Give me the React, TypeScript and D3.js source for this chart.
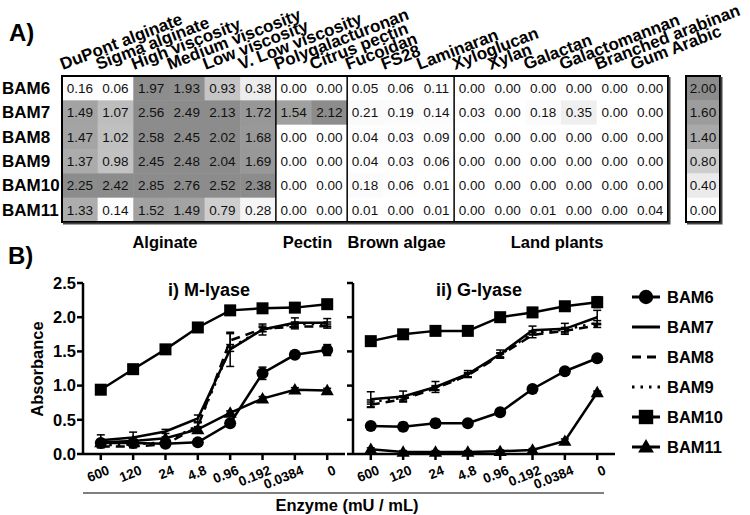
import * as d3 from "d3";

// ---- panel A data ----
const strains = ["BAM6", "BAM7", "BAM8", "BAM9", "BAM10", "BAM11"];
const substrates = [
  "DuPont alginate", "Sigma alginate", "High viscosity", "Medium viscosity", "Low viscosity",
  "V. Low viscosity", "Polygalacturonan", "Citrus pectin", "Fucoidan", "FS28", "Laminaran",
  "Xyloglucan", "Xylan", "Galactan", "Galactomannan", "Branched arabinan", "Gum Arabic",
];
const groupNames = ["Alginate", "Pectin", "Brown algae", "Land plants"];
const groupSizes = [6, 2, 3, 6];

const heatBAM6 = [0.16, 0.06, 1.97, 1.93, 0.93, 0.38, 0.0, 0.0, 0.05, 0.06, 0.11, 0.0, 0.0, 0.0, 0.0, 0.0, 0.0];
const heatBAM7 = [1.49, 1.07, 2.56, 2.49, 2.13, 1.72, 1.54, 2.12, 0.21, 0.19, 0.14, 0.03, 0.0, 0.18, 0.35, 0.0, 0.0];
const heatBAM8 = [1.47, 1.02, 2.58, 2.45, 2.02, 1.68, 0.0, 0.0, 0.04, 0.03, 0.09, 0.0, 0.0, 0.0, 0.0, 0.0, 0.0];
const heatBAM9 = [1.37, 0.98, 2.45, 2.48, 2.04, 1.69, 0.0, 0.0, 0.04, 0.03, 0.06, 0.0, 0.0, 0.0, 0.0, 0.0, 0.0];
const heatBAM10 = [2.25, 2.42, 2.85, 2.76, 2.52, 2.38, 0.0, 0.0, 0.18, 0.06, 0.01, 0.0, 0.0, 0.0, 0.0, 0.0, 0.0];
const heatBAM11 = [1.33, 0.14, 1.52, 1.49, 0.79, 0.28, 0.0, 0.0, 0.01, 0.0, 0.01, 0.0, 0.0, 0.01, 0.0, 0.0, 0.04];
const heatRows = [heatBAM6, heatBAM7, heatBAM8, heatBAM9, heatBAM10, heatBAM11];

const scaleValues = [2.0, 1.6, 1.4, 0.8, 0.4, 0.0];

// ---- panel B data ----
const doses = ["600", "120", "24", "4.8", "0.96", "0.192", "0.0384", "0"];

const mBAM6 = [0.16, 0.16, 0.15, 0.17, 0.45, 1.18, 1.45, 1.52];
const mBAM7 = [0.2, 0.24, 0.33, 0.52, 1.53, 1.82, 1.92, 1.92];
const mBAM8 = [0.11, 0.11, 0.14, 0.4, 1.66, 1.83, 1.86, 1.87];
const mBAM9 = [0.13, 0.14, 0.17, 0.42, 1.55, 1.82, 1.9, 1.9];
const mBAM10 = [0.94, 1.24, 1.53, 1.85, 2.1, 2.13, 2.14, 2.19];
const mBAM11 = [0.17, 0.19, 0.23, 0.36, 0.6, 0.81, 0.94, 0.93];

const mErrBAM6 = [0.02, 0.02, 0.02, 0.02, 0.03, 0.09, 0.03, 0.08];
const mErrBAM7 = [0.08, 0.08, 0.03, 0.05, 0.25, 0.08, 0.07, 0.06];
const mErrBAM8 = [0.02, 0.02, 0.02, 0.06, 0.1, 0.04, 0.03, 0.03];
const mErrBAM9 = [0.02, 0.02, 0.02, 0.04, 0.05, 0.03, 0.03, 0.03];
const mErrBAM10 = [0.02, 0.02, 0.02, 0.02, 0.02, 0.02, 0.02, 0.02];
const mErrBAM11 = [0.02, 0.02, 0.02, 0.04, 0.03, 0.03, 0.03, 0.03];

const gBAM6 = [0.41, 0.4, 0.45, 0.45, 0.61, 0.95, 1.21, 1.4];
const gBAM7 = [0.8, 0.84, 0.98, 1.17, 1.46, 1.81, 1.83, 2.0];
const gBAM8 = [0.72, 0.8, 0.96, 1.15, 1.44, 1.74, 1.8, 1.88];
const gBAM9 = [0.76, 0.82, 0.97, 1.16, 1.45, 1.77, 1.82, 1.92];
const gBAM10 = [1.65, 1.75, 1.8, 1.8, 2.0, 2.07, 2.16, 2.22];
const gBAM11 = [0.07, 0.03, 0.03, 0.03, 0.04, 0.06, 0.19, 0.9];

const gErrBAM6 = [0.03, 0.06, 0.06, 0.03, 0.03, 0.03, 0.03, 0.03];
const gErrBAM7 = [0.11, 0.08, 0.08, 0.05, 0.06, 0.06, 0.08, 0.1];
const gErrBAM8 = [0.04, 0.03, 0.03, 0.03, 0.03, 0.04, 0.03, 0.03];
const gErrBAM9 = [0.03, 0.03, 0.03, 0.03, 0.03, 0.03, 0.03, 0.03];
const gErrBAM10 = [0.02, 0.03, 0.04, 0.03, 0.03, 0.07, 0.03, 0.08];
const gErrBAM11 = [0.02, 0.02, 0.02, 0.02, 0.02, 0.02, 0.03, 0.02];

const mSeries = [mBAM6, mBAM7, mBAM8, mBAM9, mBAM10, mBAM11];
const mErrors = [mErrBAM6, mErrBAM7, mErrBAM8, mErrBAM9, mErrBAM10, mErrBAM11];
const gSeries = [gBAM6, gBAM7, gBAM8, gBAM9, gBAM10, gBAM11];
const gErrors = [gErrBAM6, gErrBAM7, gErrBAM8, gErrBAM9, gErrBAM10, gErrBAM11];

// marker + dash per strain
const styles = [
  { marker: "circle", dash: "" },
  { marker: "none", dash: "" },
  { marker: "none", dash: "9,6" },
  { marker: "none", dash: "2.5,6" },
  { marker: "square", dash: "" },
  { marker: "triangle", dash: "" },
];

const FONT = "'Liberation Sans', Arial, sans-serif";

function Marker({ type, x, y, s = 1 }: { type: string; x: number; y: number; s?: number }) {
  if (type === "circle") return <circle cx={x} cy={y} r={6 * s} fill="#000" />;
  if (type === "square") return <rect x={x - 6 * s} y={y - 6 * s} width={12 * s} height={12 * s} fill="#000" />;
  if (type === "triangle") {
    const p = d3.symbol(d3.symbolTriangle, 75 * s * s)();
    return <path d={p || ""} transform={`translate(${x},${y + 1})`} fill="#000" />;
  }
  return null;
}

function LinePanel({ series, errors, x0, x1, title, showLabels }: any) {
  const x = d3.scalePoint<string>().domain(doses).range([x0, x1]).padding(0.55);
  const y = d3.scaleLinear().domain([0, 2.5]).range([454, 283]);
  const line = d3
    .line<number>()
    .x((d, i) => x(doses[i]) as number)
    .y((d) => y(d));
  const ticks = y.ticks(5);
  const order = [1, 2, 3, 0, 5, 4];

  return (
    <g>
      <text x={(x0 + x1) / 2 - 5} y={296} textAnchor="middle" fontSize={18} fontWeight="bold">
        {title}
      </text>
      {/* y axis */}
      <line x1={x0} x2={x0} y1={283} y2={455} stroke="#000" strokeWidth={2.5} />
      {ticks.map((t) => (
        <g key={t}>
          <line x1={x0 - 6} x2={x0} y1={y(t)} y2={y(t)} stroke="#000" strokeWidth={2.5} />
          {showLabels && (
            <text x={x0 - 7} y={y(t)} dy="0.35em" textAnchor="end" fontSize={16.5} fontWeight="bold">
              {d3.format(".1f")(t)}
            </text>
          )}
        </g>
      ))}
      {/* x axis */}
      <line x1={x0} x2={x1} y1={454} y2={454} stroke="#000" strokeWidth={2.5} />
      {doses.map((d) => (
        <g key={d}>
          <line x1={x(d)} x2={x(d)} y1={454} y2={460} stroke="#000" strokeWidth={2.5} />
          <text
            transform={`translate(${(x(d) as number) + 6},${465}) rotate(-22)`}
            textAnchor="end"
            dy="0.7em"
            fontSize={13.5}
            fontWeight="bold"
          >
            {d}
          </text>
        </g>
      ))}
      {/* lines */}
      {order.map((k) => (
        <path
          key={"l" + k}
          d={line(series[k]) || ""}
          fill="none"
          stroke="#000"
          strokeWidth={2.5}
          strokeDasharray={styles[k].dash}
        />
      ))}
      {/* error bars */}
      {order.map((k) =>
        series[k].map((v: number, i: number) => {
          const cx = x(doses[i]) as number;
          const e = errors[k][i];
          return (
            <g key={"e" + k + i} stroke="#000" strokeWidth={1.5}>
              <line x1={cx} x2={cx} y1={y(v - e)} y2={y(v + e)} />
              <line x1={cx - 4} x2={cx + 4} y1={y(v + e)} y2={y(v + e)} />
              <line x1={cx - 4} x2={cx + 4} y1={y(v - e)} y2={y(v - e)} />
            </g>
          );
        })
      )}
      {/* markers */}
      {order.map((k) =>
        series[k].map((v: number, i: number) => (
          <Marker key={"m" + k + i} type={styles[k].marker} x={x(doses[i]) as number} y={y(v)} />
        ))
      )}
    </g>
  );
}

export default function App() {
  const cx = d3.scaleBand<string>().domain(substrates).range([62, 668]);
  const ry = d3.scaleBand<string>().domain(strains).range([76, 222]);
  const color = d3
    .scaleLinear<string>()
    .domain([0, 0.2, 0.4, 0.8, 1.4, 1.6, 2.0])
    .range(["#ffffff", "#fbfbfb", "#ebebeb", "#cdcdcd", "#a9a9a9", "#9c9c9c", "#8c8c8c"])
    .clamp(true);
  const ly = d3.scaleBand<string>().domain(scaleValues.map(String)).range([76, 222]);

  // group boundaries
  const bounds: number[] = [];
  let acc = 0;
  groupSizes.forEach((n) => {
    bounds.push(acc);
    acc += n;
  });

  const legendY = d3.scalePoint<string>().domain(strains).range([297, 447]);

  return (
    <svg width={750} height={515} style={{ position: "absolute", left: 0, top: 0, fontFamily: FONT }}>
      <rect width={750} height={515} fill="#fff" />
      <text x={9} y={41} fontSize={24} fontWeight="bold">A)</text>
      <text x={8} y={264} fontSize={24} fontWeight="bold">B)</text>

      {/* column headers */}
      {substrates.map((s) => (
        <text
          key={s}
          transform={`translate(${(cx(s) as number) + cx.bandwidth() / 2 - 17},${70}) rotate(-21)`}
          fontSize={17}
          fontWeight="bold"
        >
          {s}
        </text>
      ))}

      {/* cells */}
      {strains.map((r, ri) => (
        <g key={r}>
          <text x={2} y={(ry(r) as number) + ry.bandwidth() / 2} dy="0.35em" fontSize={17} fontWeight="bold">
            {r}
          </text>
          {heatRows[ri].map((v, ci) => (
            <g key={ci}>
              <rect
                x={cx(substrates[ci])}
                y={ry(r)}
                width={cx.bandwidth() + 0.5}
                height={ry.bandwidth() + 0.5}
                fill={color(v)}
              />
              <text
                x={(cx(substrates[ci]) as number) + cx.bandwidth() / 2}
                y={(ry(r) as number) + ry.bandwidth() / 2}
                dy="0.36em"
                textAnchor="middle"
                fontSize={13.5}
                fill="#111"
              >
                {v.toFixed(2)}
              </text>
            </g>
          ))}
        </g>
      ))}
      {bounds.slice(1).map((b) => (
        <line
          key={b}
          x1={cx(substrates[b])}
          x2={cx(substrates[b])}
          y1={76}
          y2={222}
          stroke="#000"
          strokeWidth={1.5}
        />
      ))}
      <rect x={62} y={76} width={606} height={146} fill="none" stroke="#000" strokeWidth={2} />
      <path d="M63,223.5 H669.5 V77" fill="none" stroke="#444" strokeWidth={2} />

      {/* group labels */}
      {groupNames.map((g, i) => {
        const a = cx(substrates[bounds[i]]) as number;
        const b = (cx(substrates[bounds[i] + groupSizes[i] - 1]) as number) + cx.bandwidth();
        return (
          <text key={g} x={(a + b) / 2 - 4} y={248} textAnchor="middle" fontSize={16.5} fontWeight="bold">
            {g}
          </text>
        );
      })}

      {/* colour key */}
      {scaleValues.map((v) => (
        <g key={v}>
          <rect x={686} y={ly(String(v))} width={34} height={ly.bandwidth() + 0.5} fill={color(v)} />
          <text
            x={703}
            y={(ly(String(v)) as number) + ly.bandwidth() / 2}
            dy="0.36em"
            textAnchor="middle"
            fontSize={13.5}
            fill="#111"
          >
            {v.toFixed(2)}
          </text>
        </g>
      ))}
      <rect x={686} y={76} width={34} height={146} fill="none" stroke="#000" strokeWidth={2} />
      <path d="M687,223.5 H721.5 V77" fill="none" stroke="#444" strokeWidth={2} />

      {/* panel B */}
      <LinePanel series={mSeries} errors={mErrors} x0={83} x1={345} title="i) M-lyase" showLabels />
      <LinePanel series={gSeries} errors={gErrors} x0={353} x1={615} title="ii) G-lyase" showLabels={false} />
      <text transform="translate(43,369) rotate(-90)" textAnchor="middle" fontSize={16.5} fontWeight="bold">
        Absorbance
      </text>
      <line x1={83} x2={604} y1={493} y2={493} stroke="#000" strokeWidth={1.2} />
      <text x={347} y={511} textAnchor="middle" fontSize={16.5} fontWeight="bold">
        Enzyme (mU / mL)
      </text>

      {/* legend */}
      {strains.map((s, i) => {
        const yy = legendY(s) as number;
        return (
          <g key={s}>
            <line
              x1={632}
              x2={660}
              y1={yy}
              y2={yy}
              stroke="#000"
              strokeWidth={3}
              strokeDasharray={styles[i].dash}
            />
            <Marker type={styles[i].marker} x={646} y={yy} s={1.2} />
            <text x={667} y={yy} dy="0.36em" fontSize={16.5} fontWeight="bold">
              {s}
            </text>
          </g>
        );
      })}
    </svg>
  );
}
